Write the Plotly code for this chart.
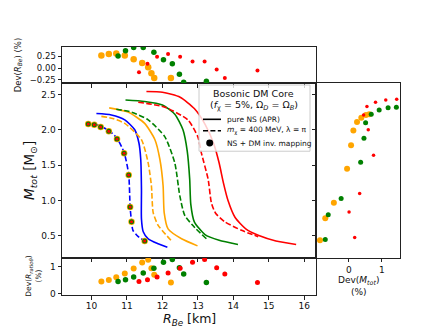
import plotly.graph_objects as go

W, H = 436, 327

# ---- curves M(R): solid = pure NS (APR), dashed = NS + DM ----
blue_solid_r = [10.14, 10.56, 10.94, 11.22, 11.34, 11.39, 11.41, 11.41, 11.46, 11.60, 11.88, 12.14]
blue_solid_m = [2.23, 2.21, 2.14, 2.00, 1.81, 1.58, 1.16, 0.74, 0.56, 0.46, 0.39, 0.34]
blue_dash_r = [9.86, 9.91, 10.08, 10.26, 10.49, 10.72, 10.92, 11.05, 11.09, 11.13, 11.17, 11.32, 11.50]
blue_dash_m = [2.11, 2.09, 2.08, 2.05, 1.99, 1.88, 1.68, 1.37, 0.91, 0.70, 0.58, 0.49, 0.43]

orange_solid_r = [10.50, 11.03, 11.50, 11.79, 11.93, 12.02, 12.05, 12.16, 12.54, 12.99]
orange_solid_m = [2.31, 2.25, 2.09, 1.86, 1.58, 1.21, 0.83, 0.60, 0.46, 0.36]
orange_dash_r = [10.28, 10.60, 10.94, 11.41, 11.60, 11.69, 11.74, 11.88, 12.24]
orange_dash_m = [2.19, 2.16, 2.09, 1.86, 1.53, 1.21, 0.83, 0.65, 0.44]

green_solid_r = [10.96, 11.50, 12.00, 12.35, 12.58, 12.70, 12.77, 12.80, 12.90, 13.20, 13.60, 14.13]
green_solid_m = [2.42, 2.40, 2.35, 2.22, 2.00, 1.70, 1.30, 0.95, 0.70, 0.52, 0.44, 0.38]
green_dash_r = [10.70, 11.13, 11.60, 12.07, 12.35, 12.49, 12.63, 12.91, 13.24]
green_dash_m = [2.29, 2.25, 2.14, 1.90, 1.53, 1.07, 0.79, 0.62, 0.46]

red_solid_r = [11.55, 12.00, 12.50, 12.90, 13.20, 13.45, 13.60, 13.72, 13.85, 14.05, 14.35, 14.70, 15.20, 15.77]
red_solid_m = [2.54, 2.53, 2.46, 2.30, 2.08, 1.80, 1.53, 1.25, 1.00, 0.76, 0.60, 0.51, 0.43, 0.38]
red_dash_r = [11.32, 12.07, 12.72, 13.00, 13.10, 13.29, 13.38, 13.50, 13.76, 14.23, 14.70]
red_dash_m = [2.39, 2.32, 2.14, 1.90, 1.67, 1.30, 0.97, 0.82, 0.70, 0.58, 0.49]

# inverse mapping points (on the blue dashed curve)
inv_r = [9.91, 10.08, 10.26, 10.49, 10.72, 10.92, 11.05, 11.09, 11.13, 11.50]
inv_m = [2.08, 2.07, 2.04, 1.98, 1.87, 1.67, 1.36, 0.91, 0.70, 0.43]

# ---- deviations ----
orange_r = [10.28, 10.49, 10.70, 10.94, 11.19, 11.43, 11.60, 11.69, 11.77, 12.24]
green_r = [10.75, 10.96, 11.19, 11.46, 11.76, 12.03, 12.28, 12.48, 12.60, 13.24]
red_r = [11.34, 11.58, 11.85, 12.16, 12.50, 12.85, 13.19, 13.53, 13.76, 14.68]

orange_dev_rbe = [0.27, 0.30, 0.31, 0.27, 0.19, 0.11, 0.02, -0.11, -0.21, -0.21]
green_dev_rbe = [0.26, 0.37, 0.44, 0.44, 0.34, 0.18, 0.09, -0.13, -0.30, -0.28]
red_dev_rbe = [-0.09, 0.09, 0.24, 0.30, 0.24, 0.14, 0.14, -0.03, -0.21, -0.05]

orange_dev_ratio = [0.46, 0.51, 0.61, 0.75, 0.94, 1.16, 1.26, 0.95, 0.71, 0.42]
green_dev_ratio = [0.46, 0.52, 0.62, 0.77, 0.95, 1.17, 1.27, 0.97, 0.73, 0.42]
red_dev_ratio = [0.46, 0.52, 0.62, 0.77, 0.95, 1.17, 1.27, 0.97, 0.73, 0.42]

orange_m = [2.22, 2.21, 2.17, 2.11, 1.99, 1.78, 1.45, 0.97, 0.75, 0.44]
orange_dev_m = [0.62, 0.52, 0.38, 0.25, 0.14, 0.07, -0.05, -0.45, -0.71, -0.87]
green_m = [2.32, 2.31, 2.28, 2.22, 2.10, 1.88, 1.54, 1.03, 0.80, 0.45]
green_dev_m = [1.44, 1.19, 0.92, 0.68, 0.51, 0.46, 0.36, -0.23, -0.62, -0.71]
red_m = [2.43, 2.42, 2.39, 2.33, 2.21, 2.00, 1.64, 1.10, 0.84, 0.48]
red_dev_m = [1.45, 1.12, 0.81, 0.55, 0.45, 0.59, 0.75, 0.33, 0.01, 0.18]

BLUE, ORANGE, GREEN, RED = "#0000ff", "#ffa500", "#008000", "#ff0000"
FONT = "DejaVu Sans"


def px(x):
    return x / W


def py(y):
    return 1 - y / H


def curve(r, m, color, dash):
    return go.Scatter(x=r, y=m, mode="lines", line=dict(color=color, width=1.6, dash=dash, shape="spline", smoothing=0.6),
                      xaxis="x", yaxis="y", showlegend=False)


def dots(x, y, color, size, xa, ya):
    return go.Scatter(x=x, y=y, mode="markers", marker=dict(color=color, size=size, line=dict(width=0)),
                      xaxis=xa, yaxis=ya, showlegend=False)


dash = "5.5px,2.4px"
traces = [
    curve(blue_solid_r, blue_solid_m, BLUE, "solid"),
    curve(blue_dash_r, blue_dash_m, BLUE, dash),
    curve(orange_solid_r, orange_solid_m, ORANGE, "solid"),
    curve(orange_dash_r, orange_dash_m, ORANGE, dash),
    curve(green_solid_r, green_solid_m, GREEN, "solid"),
    curve(green_dash_r, green_dash_m, GREEN, dash),
    curve(red_solid_r, red_solid_m, RED, "solid"),
    curve(red_dash_r, red_dash_m, RED, dash),
    dots(inv_r, inv_m, ORANGE, 6.5, "x", "y"),
    dots(inv_r, inv_m, GREEN, 5, "x", "y"),
    dots(inv_r, inv_m, RED, 3, "x", "y"),
    # top panel
    dots(orange_r, orange_dev_rbe, ORANGE, 6.5, "x2", "y2"),
    dots(green_r, green_dev_rbe, GREEN, 5.5, "x2", "y2"),
    dots(red_r, red_dev_rbe, RED, 4, "x2", "y2"),
    # bottom panel
    dots(orange_r, orange_dev_ratio, ORANGE, 6, "x3", "y3"),
    dots(green_r, green_dev_ratio, GREEN, 5.5, "x3", "y3"),
    dots(red_r, red_dev_ratio, RED, 5, "x3", "y3"),
    # right panel
    dots(orange_dev_m, orange_m, ORANGE, 6, "x4", "y4"),
    dots(green_dev_m, green_m, GREEN, 5, "x4", "y4"),
    dots(red_dev_m, red_m, RED, 3.5, "x4", "y4"),
]

fig = go.Figure(data=traces)

ax_common = dict(showline=True, mirror=True, linecolor="#222", linewidth=1, ticks="outside", ticklen=3.5,
                 tickwidth=0.8, tickcolor="#222", showgrid=False, zeroline=False,
                 tickfont=dict(family=FONT, size=9, color="#111"))

main_x = [px(54), px(308)]
main_y = [py(253), py(76)]
xr = [9.17, 16.33]
mr = [0.19, 2.66]

fig.update_layout(
    width=W, height=H, margin=dict(l=0, r=0, t=0, b=0),
    paper_bgcolor="white", plot_bgcolor="white",
    font=dict(family=FONT, color="#111"),
    xaxis=dict(domain=main_x, range=xr, showticklabels=False, dtick=1, **ax_common),
    yaxis=dict(domain=main_y, range=mr, tickvals=[0.5, 1.0, 1.5, 2.0, 2.5], tickformat=".1f", **ax_common),
    xaxis2=dict(domain=main_x, range=xr, anchor="y2", showticklabels=False, dtick=1, **ax_common),
    yaxis2=dict(domain=[py(76), py(39)], range=[-0.32, 0.46], anchor="x2",
                tickvals=[-0.25, 0, 0.25], ticktext=["\u22120.25", "0.00", "0.25"], **ax_common),
    xaxis3=dict(domain=main_x, range=xr, anchor="y3", dtick=1, ticklabelstandoff=-2, **ax_common),
    yaxis3=dict(domain=[py(291), py(253)], range=[-0.06, 1.33], anchor="x3", tickvals=[0, 1], **ax_common),
    xaxis4=dict(domain=[px(308), px(392)], range=[-0.99, 1.55], anchor="y4", tickvals=[0, 1], **ax_common),
    yaxis4=dict(domain=main_y, range=mr, anchor="x4", showticklabels=False,
                tickvals=[0.5, 1.0, 1.5, 2.0, 2.5], **ax_common),
)
fig.update_layout(yaxis2_tickfont_size=8.5)


def note(text, x, y, size, angle=0, xanchor="center", yanchor="middle"):
    fig.add_annotation(text=text, x=px(x), y=py(y), xref="paper", yref="paper", showarrow=False,
                       textangle=angle, xanchor=xanchor, yanchor=yanchor,
                       font=dict(family=FONT, size=size, color="#111"))


# axis titles
note("<i>R</i><sub><i>Be</i></sub> [km]", 181, 315, 12.5)
note("<i>M</i><sub><i>tot</i></sub> [M<sub>\u2299</sub>]", 22, 165, 13.5, angle=-90)
note("Dev(<i>R</i><sub><i>Be</i></sub>) (%)", 10, 58, 8.5, angle=-90)
note("Dev(<i>R</i><sub><i>ratio\u03b8</i></sub>)<br>(%)", 26, 272, 7.5, angle=-90)
note("Dev(<i>M</i><sub><i>tot</i></sub>)<br>(%)", 350, 281, 9)

# legend box
fig.add_shape(type="rect", xref="paper", yref="paper", x0=px(191), x1=px(302), y0=py(145), y1=py(78),
              line=dict(color="#cccccc", width=1), fillcolor="rgba(255,255,255,0.8)", layer="above")
note("Bosonic DM Core", 246, 87, 9.5)
note("(<i>f</i><sub>\u03c7</sub> = 5%, \u03a9<sub><i>D</i></sub> = \u03a9<sub><i>B</i></sub>)", 246, 99, 9.5)
fig.add_shape(type="line", xref="paper", yref="paper", x0=px(195), x1=px(213), y0=py(112.7), y1=py(112.7),
              line=dict(color="black", width=1.6), layer="above")
fig.add_shape(type="line", xref="paper", yref="paper", x0=px(195), x1=px(213), y0=py(124.3), y1=py(124.3),
              line=dict(color="black", width=1.6, dash="5px,2.4px"), layer="above")
fig.add_shape(type="circle", xref="paper", yref="paper", x0=px(198.2), x1=px(205.2), y0=py(140.2), y1=py(133.2),
              line=dict(width=0), fillcolor="black", layer="above")
note("pure NS (APR)", 217, 112.7, 7.5, xanchor="left")
note("<i>m</i><sub>\u03c7</sub> = 400 MeV, \u03bb = \u03c0", 217, 124.3, 7.5, xanchor="left")
note("NS + DM inv. mapping", 217, 136.7, 7.5, xanchor="left")

fig.write_html("out.html")
